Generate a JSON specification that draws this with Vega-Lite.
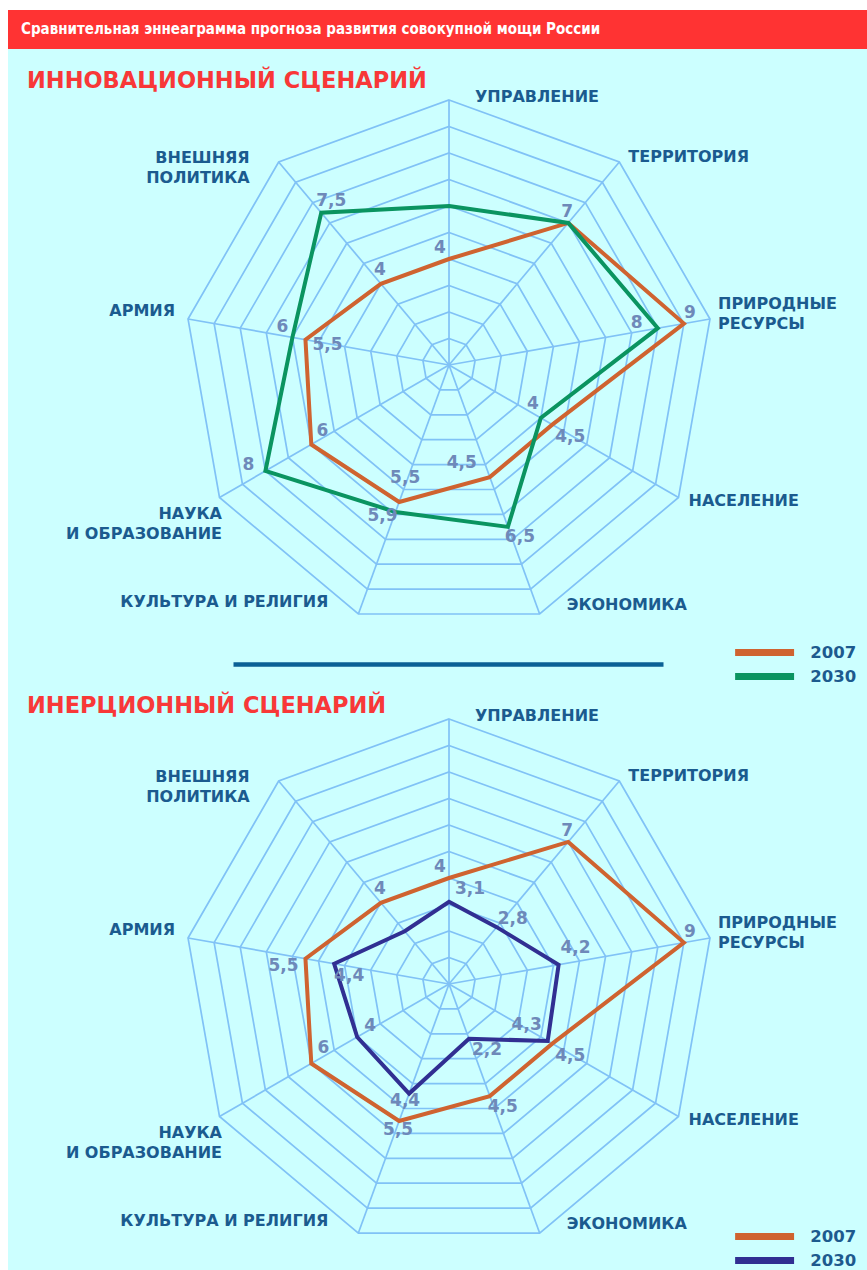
{
  "$schema": "https://vega.github.io/schema/vega-lite/v6.json",
  "background": "white",
  "padding": {"left": 8, "top": 10, "right": 0, "bottom": 0},
  "autosize": {"type": "pad"},
  "spacing": 0,
  "bounds": "flush",
  "config": {"view": {"stroke": null}, "axis": {"domainCap": "butt"}},
  "resolve": {"scale": {"x": "independent", "y": "independent", "color": "independent"}, "legend": {"color": "independent"}},
  "datasets": {
    "axes": [
      {"i": 0, "name": "УПРАВЛЕНИЕ"},
      {"i": 1, "name": "ТЕРРИТОРИЯ"},
      {"i": 2, "name": "ПРИРОДНЫЕ\nРЕСУРСЫ"},
      {"i": 3, "name": "НАСЕЛЕНИЕ"},
      {"i": 4, "name": "ЭКОНОМИКА"},
      {"i": 5, "name": "КУЛЬТУРА И РЕЛИГИЯ"},
      {"i": 6, "name": "НАУКА\nИ ОБРАЗОВАНИЕ"},
      {"i": 7, "name": "АРМИЯ"},
      {"i": 8, "name": "ВНЕШНЯЯ\nПОЛИТИКА"}
    ],
    "rings": [
      {"level": 1, "i": [0, 1, 2, 3, 4, 5, 6, 7, 8]},
      {"level": 2, "i": [0, 1, 2, 3, 4, 5, 6, 7, 8]},
      {"level": 3, "i": [0, 1, 2, 3, 4, 5, 6, 7, 8]},
      {"level": 4, "i": [0, 1, 2, 3, 4, 5, 6, 7, 8]},
      {"level": 5, "i": [0, 1, 2, 3, 4, 5, 6, 7, 8]},
      {"level": 6, "i": [0, 1, 2, 3, 4, 5, 6, 7, 8]},
      {"level": 7, "i": [0, 1, 2, 3, 4, 5, 6, 7, 8]},
      {"level": 8, "i": [0, 1, 2, 3, 4, 5, 6, 7, 8]},
      {"level": 9, "i": [0, 1, 2, 3, 4, 5, 6, 7, 8]},
      {"level": 10, "i": [0, 1, 2, 3, 4, 5, 6, 7, 8]}
    ],
    "scores": [
      {"scenario": "A", "series": "2007", "i": 0, "value": 4},
      {"scenario": "A", "series": "2007", "i": 1, "value": 7},
      {"scenario": "A", "series": "2007", "i": 2, "value": 9},
      {"scenario": "A", "series": "2007", "i": 3, "value": 4.5},
      {"scenario": "A", "series": "2007", "i": 4, "value": 4.5},
      {"scenario": "A", "series": "2007", "i": 5, "value": 5.5},
      {"scenario": "A", "series": "2007", "i": 6, "value": 6},
      {"scenario": "A", "series": "2007", "i": 7, "value": 5.5},
      {"scenario": "A", "series": "2007", "i": 8, "value": 4},
      {"scenario": "A", "series": "2030", "i": 0, "value": 6},
      {"scenario": "A", "series": "2030", "i": 1, "value": 7},
      {"scenario": "A", "series": "2030", "i": 2, "value": 8},
      {"scenario": "A", "series": "2030", "i": 3, "value": 4},
      {"scenario": "A", "series": "2030", "i": 4, "value": 6.5},
      {"scenario": "A", "series": "2030", "i": 5, "value": 5.9},
      {"scenario": "A", "series": "2030", "i": 6, "value": 8},
      {"scenario": "A", "series": "2030", "i": 7, "value": 6},
      {"scenario": "A", "series": "2030", "i": 8, "value": 7.5},
      {"scenario": "B", "series": "2007", "i": 0, "value": 4},
      {"scenario": "B", "series": "2007", "i": 1, "value": 7},
      {"scenario": "B", "series": "2007", "i": 2, "value": 9},
      {"scenario": "B", "series": "2007", "i": 3, "value": 4.5},
      {"scenario": "B", "series": "2007", "i": 4, "value": 4.5},
      {"scenario": "B", "series": "2007", "i": 5, "value": 5.5},
      {"scenario": "B", "series": "2007", "i": 6, "value": 6},
      {"scenario": "B", "series": "2007", "i": 7, "value": 5.5},
      {"scenario": "B", "series": "2007", "i": 8, "value": 4},
      {"scenario": "B", "series": "2030", "i": 0, "value": 3.1},
      {"scenario": "B", "series": "2030", "i": 1, "value": 2.8},
      {"scenario": "B", "series": "2030", "i": 2, "value": 4.2},
      {"scenario": "B", "series": "2030", "i": 3, "value": 4.3},
      {"scenario": "B", "series": "2030", "i": 4, "value": 2.2},
      {"scenario": "B", "series": "2030", "i": 5, "value": 4.4},
      {"scenario": "B", "series": "2030", "i": 6, "value": 4},
      {"scenario": "B", "series": "2030", "i": 7, "value": 4.4},
      {"scenario": "B", "series": "2030", "i": 8, "value": 2.6}
    ]
  },
  "vconcat": [
    {
      "width": 859,
      "height": 39,
      "view": {"fill": "#ff3333", "stroke": null},
      "title": {"text": "Сравнительная эннеаграмма прогноза развития совокупной мощи России", "anchor": "start", "frame": "group", "orient": "top", "offset": -34, "baseline": "middle", "dx": 13, "font": "DejaVu Sans Condensed", "fontWeight": "bold", "fontSize": 15, "color": "white"},
      "data": {"values": [{}]},
      "mark": {"type": "point", "opacity": 0}
    },
    {
      "width": 859,
      "height": 641,
      "view": {"fill": "#ccffff", "stroke": null},
      "title": {"text": "ИННОВАЦИОННЫЙ СЦЕНАРИЙ", "anchor": "start", "frame": "group", "orient": "top", "offset": -54, "baseline": "middle", "dx": 19, "font": "DejaVu Sans", "fontWeight": "bold", "fontSize": 22.5, "color": "#f83838"},
      "encoding": {
        "x": {"field": "px", "type": "quantitative", "scale": {"domain": [-8.151, 8.075], "range": [225, 655], "nice": false, "zero": false}, "axis": {"orient": "bottom", "offset": -26, "domainColor": "#0b6196", "domainWidth": 4.5, "ticks": false, "labels": false, "grid": false, "title": null}},
        "y": {"field": "py", "type": "quantitative", "scale": {"domain": [-12.264, 11.925], "nice": false, "zero": false}, "axis": null}
      },
      "layer": [
        {
          "data": {"name": "rings"},
          "transform": [
            {"flatten": ["i"]},
            {"calculate": "datum.level * sin(datum.i * PI / 4.5)", "as": "px"},
            {"calculate": "datum.level * cos(datum.i * PI / 4.5)", "as": "py"}
          ],
          "mark": {"type": "line", "interpolate": "linear-closed", "color": "#80c2f6", "strokeWidth": 1.7},
          "encoding": {"detail": {"field": "level", "type": "nominal"}, "order": {"field": "i", "type": "quantitative"}}
        },
        {
          "data": {"name": "axes"},
          "transform": [
            {"calculate": "10 * sin(datum.i * PI / 4.5)", "as": "px"},
            {"calculate": "10 * cos(datum.i * PI / 4.5)", "as": "py"}
          ],
          "mark": {"type": "rule", "color": "#80c2f6", "strokeWidth": 1.7},
          "encoding": {"x2": {"datum": 0}, "y2": {"datum": 0}}
        },
        {
          "data": {"name": "scores"},
          "transform": [
            {"filter": "datum.scenario == 'A'"},
            {"calculate": "datum.value * sin(datum.i * PI / 4.5)", "as": "px"},
            {"calculate": "datum.value * cos(datum.i * PI / 4.5)", "as": "py"}
          ],
          "mark": {"type": "line", "interpolate": "linear-closed", "strokeWidth": 4, "strokeJoin": "miter"},
          "encoding": {
            "order": {"field": "i", "type": "quantitative"},
            "color": {"field": "series", "type": "nominal", "scale": {"domain": ["2007", "2030"], "range": ["#cf6330", "#0a9460"]},
              "legend": {"title": null, "orient": "none", "legendX": 747.1, "legendY": 594, "symbolType": "M-5,0H5", "symbolSize": 139, "symbolStrokeWidth": 7, "labelFont": "DejaVu Sans", "labelFontWeight": "bold", "labelFontSize": 16.5, "labelColor": "#1d5a8e", "labelOffset": 36.1, "rowPadding": -5, "padding": 0}}
          }
        },
        {
          "data": {"name": "axes"},
          "transform": [
            {"calculate": "10 * sin(datum.i * PI / 4.5)", "as": "px"},
            {"calculate": "10 * cos(datum.i * PI / 4.5)", "as": "py"}
          ],
          "mark": {"type": "text", "font": "DejaVu Sans", "fontWeight": "bold", "fontSize": 16, "color": "#1b5b8f", "baseline": "middle", "lineBreak": "\n", "lineHeight": 20,
            "align": {"expr": "datum.i <= 4 ? 'left' : 'right'"},
            "dx": {"expr": "[26, 9, 8, 10, 27, -30, 2.5, -13, -29][datum.i]"},
            "dy": {"expr": "[-3, -5, -15, 3, -9, -12, 16.5, -8, -4][datum.i]"}},
          "encoding": {"text": {"field": "name", "type": "nominal"}}
        },
        {
          "data": {"name": "scores"},
          "transform": [
            {"filter": "datum.scenario == 'A' && !(datum.series == '2030' && datum.i <= 1)"},
            {"calculate": "datum.value * sin(datum.i * PI / 4.5)", "as": "px"},
            {"calculate": "datum.value * cos(datum.i * PI / 4.5)", "as": "py"},
            {"calculate": "replace(toString(datum.value), '.', ',')", "as": "lbl"}
          ],
          "mark": {"type": "text", "font": "DejaVu Sans", "fontWeight": "bold", "fontSize": 17, "color": "#6e89b9", "align": "center", "baseline": "middle",
            "dx": {"expr": "datum.series == '2007' ? [-9, -1, 6, 18, -28, 6, 11, 22, -1][datum.i] : [0, 0, -21, -8, 12, -13, -17, -10, 10][datum.i]"},
            "dy": {"expr": "datum.series == '2007' ? [-11, -11, -11, 12, -14, -24, -14, 5, -14][datum.i] : [0, 0, -5, -14, 10, 4, -6, -10, -12][datum.i]"}},
          "encoding": {"text": {"field": "lbl", "type": "nominal"}}
        }
      ]
    },
    {
      "width": 859,
      "height": 580,
      "view": {"fill": "#ccffff", "stroke": null},
      "title": {"text": "ИНЕРЦИОННЫЙ СЦЕНАРИЙ", "anchor": "start", "frame": "group", "orient": "top", "offset": -38, "baseline": "middle", "dx": 19, "font": "DejaVu Sans", "fontWeight": "bold", "fontSize": 22.5, "color": "#f83838"},
      "encoding": {
        "x": {"field": "px", "type": "quantitative", "scale": {"domain": [-16.6415, 15.7736], "nice": false, "zero": false}, "axis": null},
        "y": {"field": "py", "type": "quantitative", "scale": {"domain": [-10.792, 11.094], "nice": false, "zero": false}, "axis": null}
      },
      "layer": [
        {
          "data": {"name": "rings"},
          "transform": [
            {"flatten": ["i"]},
            {"calculate": "datum.level * sin(datum.i * PI / 4.5)", "as": "px"},
            {"calculate": "datum.level * cos(datum.i * PI / 4.5)", "as": "py"}
          ],
          "mark": {"type": "line", "interpolate": "linear-closed", "color": "#80c2f6", "strokeWidth": 1.7},
          "encoding": {"detail": {"field": "level", "type": "nominal"}, "order": {"field": "i", "type": "quantitative"}}
        },
        {
          "data": {"name": "axes"},
          "transform": [
            {"calculate": "10 * sin(datum.i * PI / 4.5)", "as": "px"},
            {"calculate": "10 * cos(datum.i * PI / 4.5)", "as": "py"}
          ],
          "mark": {"type": "rule", "color": "#80c2f6", "strokeWidth": 1.7},
          "encoding": {"x2": {"datum": 0}, "y2": {"datum": 0}}
        },
        {
          "data": {"name": "scores"},
          "transform": [
            {"filter": "datum.scenario == 'B'"},
            {"calculate": "datum.value * sin(datum.i * PI / 4.5)", "as": "px"},
            {"calculate": "datum.value * cos(datum.i * PI / 4.5)", "as": "py"}
          ],
          "mark": {"type": "line", "interpolate": "linear-closed", "strokeWidth": 4, "strokeJoin": "miter"},
          "encoding": {
            "order": {"field": "i", "type": "quantitative"},
            "color": {"field": "series", "type": "nominal", "scale": {"domain": ["2007", "2030"], "range": ["#cf6330", "#312f92"]},
              "legend": {"title": null, "orient": "none", "legendX": 747.1, "legendY": 537, "symbolType": "M-5,0H5", "symbolSize": 139, "symbolStrokeWidth": 7, "labelFont": "DejaVu Sans", "labelFontWeight": "bold", "labelFontSize": 16.5, "labelColor": "#1d5a8e", "labelOffset": 36.1, "rowPadding": -5, "padding": 0}}
          }
        },
        {
          "data": {"name": "axes"},
          "transform": [
            {"calculate": "10 * sin(datum.i * PI / 4.5)", "as": "px"},
            {"calculate": "10 * cos(datum.i * PI / 4.5)", "as": "py"}
          ],
          "mark": {"type": "text", "font": "DejaVu Sans", "fontWeight": "bold", "fontSize": 16, "color": "#1b5b8f", "baseline": "middle", "lineBreak": "\n", "lineHeight": 20,
            "align": {"expr": "datum.i <= 4 ? 'left' : 'right'"},
            "dx": {"expr": "[26, 9, 8, 10, 27, -30, 2.5, -13, -29][datum.i]"},
            "dy": {"expr": "[-3, -5, -15, 3, -9, -12, 16.5, -8, -4][datum.i]"}},
          "encoding": {"text": {"field": "name", "type": "nominal"}}
        },
        {
          "data": {"name": "scores"},
          "transform": [
            {"filter": "datum.scenario == 'B' && !(datum.series == '2030' && datum.i == 8)"},
            {"calculate": "datum.value * sin(datum.i * PI / 4.5)", "as": "px"},
            {"calculate": "datum.value * cos(datum.i * PI / 4.5)", "as": "py"},
            {"calculate": "replace(toString(datum.value), '.', ',')", "as": "lbl"}
          ],
          "mark": {"type": "text", "font": "DejaVu Sans", "fontWeight": "bold", "fontSize": 17, "color": "#6e89b9", "align": "center", "baseline": "middle",
            "dx": {"expr": "datum.series == '2007' ? [-9, -1, 6, 18, 13, -1, 12, -22, -1][datum.i] : [21, 16, 17, -21, 18, -4, 13, 15, 0][datum.i]"},
            "dy": {"expr": "datum.series == '2007' ? [-11, -11, -11, 12, 11, 9, -16, 7, -14][datum.i] : [-13, -8, -17, -16, 11, 7, -11, 12, 0][datum.i]"}},
          "encoding": {"text": {"field": "lbl", "type": "nominal"}}
        }
      ]
    }
  ]
}
